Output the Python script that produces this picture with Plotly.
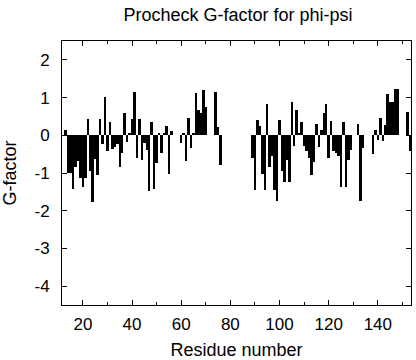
import plotly.graph_objects as go

residues = list(range(12, 154))
gfactor = [
    0.0, 0.13, -1.0, -1.0, -1.42, -0.85, -0.68, -1.14, -1.38, -1.14,   # 12-21
    0.44, -0.94, -1.77, -0.63, -1.05, 0.44, -0.24, 1.02, -0.41, 0.35,   # 22-31
    -0.37, -0.32, -0.24, -0.85, -0.47, 0.58, -0.19, 0.05, 0.44, 1.14,   # 32-41
    -0.61, 0.42, -0.65, -0.2, -0.38, -1.47, 0.35, -1.43, -0.73, 0.06,   # 42-51
    -0.47, 0.06, 0.24, -1.02, 0.12, 0.0, 0.0, 0.0, -0.2, 0.06,          # 52-61
    -0.67, 0.46, -0.33, 0.06, 1.11, 0.68, 0.58, 1.2, 0.76, 0.0,         # 62-71
    0.0, 0.0, 1.14, 0.21, -0.79, 0.0, 0.0, 0.0, 0.0, 0.0,               # 72-81
    0.0, 0.0, 0.0, 0.0, 0.0, 0.0, 0.0, -0.61, -1.46, 0.41,              # 82-91
    0.24, -1.02, -1.44, 0.82, -0.85, -0.55, -1.44, -1.75, 0.41, -0.96,  # 92-101
    -1.23, -0.65, -1.24, 0.88, -0.28, 0.68, 0.07, 0.35, -0.28, -0.41,   # 102-111
    -0.6, -1.05, -0.7, 0.3, -0.32, 0.15, 0.58, 0.82, -0.6, 0.37,        # 112-121
    -0.42, -0.46, -0.55, -1.37, 0.35, -1.37, -0.66, -0.4, 0.0, 0.0,     # 122-131
    0.3, -1.75, -0.33, 0.0, 0.0, 0.0, -0.49, 0.13, -0.12, 0.45,         # 132-141
    -0.15, 0.26, 1.1, 0.88, 0.88, 1.23, 1.23, 0.0, 0.0, 0.0,            # 142-151
    0.61, -0.41,                                                        # 152-153
]

x_ticks = [20, 40, 60, 80, 100, 120, 140]
y_ticks = [-4, -3, -2, -1, 0, 1, 2]
y_ticktext = ["-4", "-3", "-2", "-1", "0", "1", "2"]

FONT = "Liberation Sans, Arial, Helvetica, sans-serif"

fig = go.Figure(
    go.Bar(
        x=residues,
        y=gfactor,
        width=1,
        marker=dict(color="black", line=dict(width=0)),
    )
)

fig.update_layout(
    width=416,
    height=360,
    margin=dict(l=62, r=4.5, t=41, b=55, autoexpand=False),
    paper_bgcolor="white",
    plot_bgcolor="white",
    showlegend=False,
    bargap=0,
    hovermode=False,
    font=dict(family=FONT, color="black", size=17),
    title=dict(
        text="Procheck G-factor for phi-psi",
        x=0.572,
        xanchor="center",
        y=0.958,
        yanchor="middle",
        font=dict(family=FONT, size=18, color="black"),
    ),
)

fig.update_xaxes(
    range=[11.5, 153.5],
    tickvals=x_ticks,
    ticks="inside",
    ticklen=5,
    tickcolor="black",
    ticklabelstandoff=4,
    showline=True,
    linecolor="black",
    linewidth=1,
    mirror="ticks",
    showgrid=False,
    zeroline=False,
    minor=dict(dtick=10, tick0=0, ticks="inside", ticklen=3, tickcolor="black", showgrid=False),
    tickfont=dict(size=17),
    title=dict(text="Residue number", font=dict(size=18), standoff=9),
)

fig.update_yaxes(
    range=[-4.5, 2.5],
    tickvals=y_ticks,
    ticktext=y_ticktext,
    ticks="inside",
    ticklen=5,
    tickcolor="black",
    ticklabelstandoff=8,
    showline=True,
    linecolor="black",
    linewidth=1,
    mirror="ticks",
    showgrid=False,
    zeroline=False,
    tickfont=dict(size=17),
    title=dict(text="G-factor", font=dict(size=18), standoff=17),
)

# remove the browser's default 8px body margin so the figure sits at (0, 0)
fig.write_html(
    "out.html",
    config={"displayModeBar": False, "staticPlot": True},
    post_script="document.body.style.margin='0px';",
)
